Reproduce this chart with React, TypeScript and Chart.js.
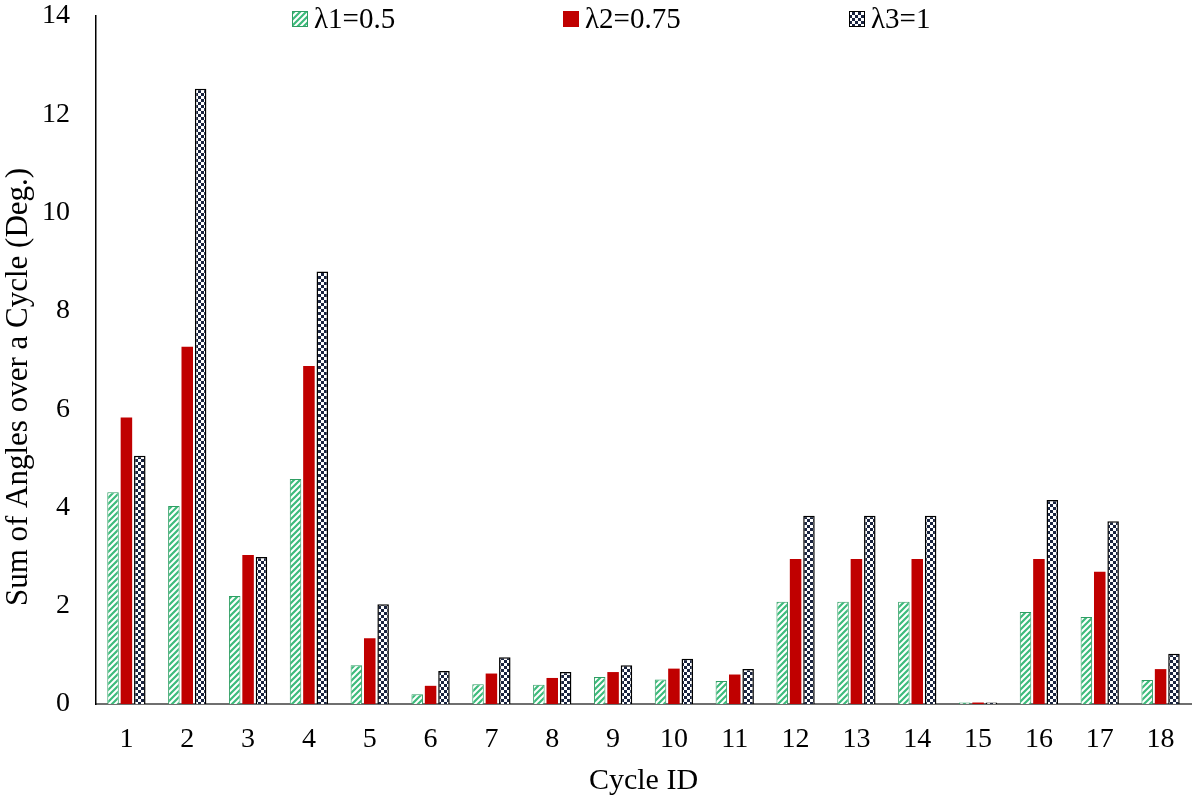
import { useEffect, useRef } from 'react'
import { Chart, registerables } from 'chart.js'

Chart.register(...registerables)

const cycleIds = ['1', '2', '3', '4', '5', '6', '7', '8', '9', '10', '11', '12', '13', '14', '15', '16', '17', '18']
const lambda1 = [4.31, 4.03, 2.2, 4.58, 0.79, 0.2, 0.4, 0.39, 0.55, 0.5, 0.47, 2.08, 2.08, 2.08, 0.03, 1.87, 1.77, 0.49]
const lambda2 = [5.83, 7.27, 3.03, 6.88, 1.34, 0.37, 0.62, 0.53, 0.65, 0.72, 0.6, 2.95, 2.95, 2.95, 0.03, 2.95, 2.69, 0.71]
const lambda3 = [5.05, 12.52, 2.99, 8.8, 2.03, 0.67, 0.95, 0.65, 0.79, 0.92, 0.71, 3.83, 3.83, 3.83, 0.03, 4.15, 3.72, 1.02]
const seriesNames = ['λ1=0.5', 'λ2=0.75', 'λ3=1']

const FONT = "'Liberation Serif', 'Times New Roman', serif"

function hatchPattern(ctx: CanvasRenderingContext2D) {
  const c = document.createElement('canvas')
  c.width = 6
  c.height = 6
  const p = c.getContext('2d')!
  p.fillStyle = '#ffffff'
  p.fillRect(0, 0, 6, 6)
  p.strokeStyle = '#3dbb7c'
  p.lineWidth = 2.2
  p.beginPath()
  p.moveTo(-1, 7); p.lineTo(7, -1)
  p.moveTo(-4, 4); p.lineTo(4, -4)
  p.moveTo(2, 10); p.lineTo(10, 2)
  p.stroke()
  return ctx.createPattern(c, 'repeat')!
}

function dotPattern(ctx: CanvasRenderingContext2D) {
  const c = document.createElement('canvas')
  c.width = 6
  c.height = 6
  const p = c.getContext('2d')!
  p.fillStyle = '#ffffff'
  p.fillRect(0, 0, 6, 6)
  p.fillStyle = '#1a2440'
  p.fillRect(0, 0, 3, 3)
  p.fillRect(3, 3, 3, 3)
  return ctx.createPattern(c, 'repeat')!
}

export default function App() {
  const canvasRef = useRef<HTMLCanvasElement>(null)

  useEffect(() => {
    document.body.style.margin = '0'
    if (!canvasRef.current) return
    const ctx = canvasRef.current.getContext('2d')!
    const green = hatchPattern(ctx)
    const dots = dotPattern(ctx)

    const legendX = [292, 563, 849]

    const extras = {
      id: 'extras',
      afterDraw(chart: Chart) {
        const c = chart.ctx
        c.save()
        // y axis title
        c.translate(19, 387)
        c.rotate(-Math.PI / 2)
        c.fillStyle = '#000'
        c.font = `31px ${FONT}`
        c.textAlign = 'center'
        c.textBaseline = 'middle'
        c.fillText('Sum of Angles over a Cycle (Deg.)', 0, 0)
        c.restore()

        // legend
        c.save()
        chart.data.datasets.forEach((ds: any, i: number) => {
          const x = legendX[i]
          c.fillStyle = ds.backgroundColor
          c.fillRect(x, 11, 16, 16)
          if (ds.borderWidth) {
            c.strokeStyle = ds.borderColor
            c.lineWidth = 1
            c.strokeRect(x + 0.5, 11.5, 15, 15)
          }
          c.fillStyle = '#000'
          c.font = `29px ${FONT}`
          c.textAlign = 'left'
          c.textBaseline = 'middle'
          c.fillText(ds.label, x + 22, 20)
        })
        c.restore()
      },
    }

    const chart = new Chart(canvasRef.current, {
      type: 'bar',
      data: {
        labels: cycleIds,
        datasets: [
          {
            label: seriesNames[0],
            data: lambda1,
            backgroundColor: green as any,
            borderColor: '#2f9e63',
            borderWidth: 1,
            categoryPercentage: 0.66,
            barPercentage: 0.86,
          },
          {
            label: seriesNames[1],
            data: lambda2,
            backgroundColor: '#c00000',
            borderWidth: 0,
            categoryPercentage: 0.66,
            barPercentage: 0.86,
          },
          {
            label: seriesNames[2],
            data: lambda3,
            backgroundColor: dots as any,
            borderColor: '#000000',
            borderWidth: 1.5,
            categoryPercentage: 0.66,
            barPercentage: 0.86,
          },
        ],
      },
      options: {
        responsive: true,
        maintainAspectRatio: false,
        animation: false,
        layout: { padding: { top: 16, right: 5, left: 0, bottom: 0 } },
        plugins: {
          legend: { display: false },
          tooltip: { enabled: false },
        },
        scales: {
          x: {
            grid: { display: false, drawTicks: false },
            border: { color: '#6f6f6f', width: 2 },
            ticks: {
              color: '#000',
              padding: 19,
              font: { family: FONT, size: 28 },
              maxRotation: 0,
              autoSkip: false,
            },
            title: {
              display: true,
              text: 'Cycle ID',
              color: '#000',
              font: { family: FONT, size: 30 },
              padding: { top: 0, bottom: 5 },
            },
            afterFit: (scale: any) => {
              scale.height = 100
              scale.paddingLeft = 0
              scale.paddingRight = 0
            },
          },
          y: {
            min: 0,
            max: 14,
            grid: { display: false, drawTicks: false },
            border: { color: '#000', width: 1.5 },
            ticks: {
              stepSize: 2,
              color: '#000',
              padding: 26,
              font: { family: FONT, size: 28 },
            },
            afterFit: (scale: any) => {
              scale.width = 96
              scale.paddingTop = 0
              scale.paddingBottom = 0
            },
          },
        },
      },
      plugins: [extras],
    })
    return () => { chart.destroy() }
  }, [])

  return (
    <div style={{ width: 1196, height: 804, position: 'relative', background: '#fff' }}>
      <canvas ref={canvasRef} />
    </div>
  )
}
